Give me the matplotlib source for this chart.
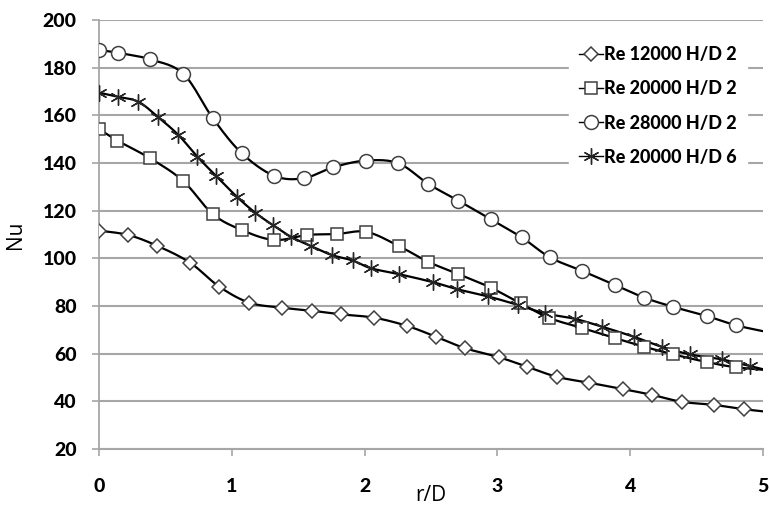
import numpy as np
import matplotlib
matplotlib.use("Agg")
import matplotlib.pyplot as plt

# values (last point of each series lies just past r/D = 5)
x_re12 = [0, 0.22, 0.44, 0.685, 0.906, 1.132, 1.376, 1.605, 1.82, 2.071, 2.317, 2.538,
          2.756, 3.012, 3.22, 3.447, 3.692, 3.948, 4.166, 4.388, 4.631, 4.857, 5.1]
nu_re12 = [111.6, 109.8, 105.2, 98.2, 88.1, 81.4, 79.3, 78.0, 76.5, 75.1, 71.7, 67.1,
           62.3, 58.5, 54.6, 50.3, 47.8, 45.1, 42.7, 39.8, 38.5, 36.7, 35.2]

x_re20 = [0, 0.138, 0.384, 0.633, 0.856, 1.075, 1.32, 1.569, 1.79, 2.014, 2.257, 2.48,
          2.706, 2.95, 3.174, 3.39, 3.635, 3.888, 4.106, 4.325, 4.576, 4.797, 5.1]
nu_re20 = [154.2, 149.4, 142.0, 132.5, 118.6, 111.9, 107.7, 109.8, 110.2, 111.1, 105.2, 98.5,
           93.4, 87.7, 81.1, 75.0, 70.8, 66.5, 62.9, 59.7, 56.5, 54.3, 52.8]

x_re28 = [0, 0.141, 0.384, 0.635, 0.857, 1.075, 1.32, 1.541, 1.764, 2.008, 2.254, 2.48,
          2.706, 2.95, 3.183, 3.396, 3.635, 3.886, 4.106, 4.32, 4.576, 4.797, 5.1]
nu_re28 = [187.4, 186.3, 183.5, 177.4, 158.8, 144.1, 134.6, 133.6, 138.2, 141.0, 139.9, 131.2,
           124.2, 116.4, 108.8, 100.4, 94.8, 88.8, 83.5, 79.7, 75.8, 71.9, 68.3]

x_hd6 = [0, 0.141, 0.296, 0.442, 0.597, 0.74, 0.881, 1.037, 1.175, 1.313, 1.447, 1.598,
         1.752, 1.909, 2.05, 2.256, 2.515, 2.693, 2.931, 3.157, 3.358, 3.584, 3.789, 4.027,
         4.237, 4.45, 4.689, 4.902, 5.1]
nu_hd6 = [169.5, 167.8, 165.7, 159.4, 151.8, 142.7, 134.6, 125.9, 119.2, 113.8, 109.0, 105.1,
          101.4, 99.1, 95.8, 93.4, 90.0, 87.1, 84.0, 80.4, 76.9, 74.6, 71.3, 67.1,
          62.9, 59.7, 57.6, 54.8, 52.1]

labels = ["Re 12000 H/D 2", "Re 20000 H/D 2", "Re 28000 H/D 2", "Re 20000 H/D 6"]


def smooth(x, y, n=16):
    # Catmull-Rom style bezier, like the spreadsheet "smoothed line"
    p = np.column_stack([x, y]).astype(float)
    p = np.vstack([p[0], p, p[-1]])
    out = []
    t = np.linspace(0, 1, n)[:, None]
    for i in range(1, len(p) - 2):
        p0, p1, p2, p3 = p[i - 1], p[i], p[i + 1], p[i + 2]
        c1 = p1 + (p2 - p0) / 6.0
        c2 = p2 - (p3 - p1) / 6.0
        seg = ((1 - t) ** 3) * p1 + 3 * ((1 - t) ** 2) * t * c1 + 3 * (1 - t) * t ** 2 * c2 + t ** 3 * p2
        out.append(seg if i == 1 else seg[1:])
    s = np.vstack(out)
    return s[:, 0], s[:, 1]


fig = plt.figure(figsize=(7.7, 5.15), dpi=100)
ax = fig.add_axes([99 / 770, 66 / 515, 664 / 770, 429 / 515])

grid_c = "#a6a6a6"
edge_c = "#404040"
styles = [
    dict(marker="D", ms=7.5, mfc="white", mec=edge_c, mew=1.1),
    dict(marker="s", ms=8.5, mfc="white", mec=edge_c, mew=1.1),
    dict(marker="o", ms=10, mfc="white", mec=edge_c, mew=1.1),
    dict(marker=(6, 2, 0), ms=11.5, mfc="white", mec="#262626", mew=1.0),
]
series = [(x_re12, nu_re12), (x_re20, nu_re20), (x_re28, nu_re28), (x_hd6, nu_hd6)]

for (xs, ys), st, lab in zip(series, styles, labels):
    sx, sy = smooth(xs, ys)
    ax.plot(sx, sy, color="black", lw=1.6, zorder=3)
    ax.plot(xs[:-1], ys[:-1], ls="none", zorder=4, **st)
    # legend proxy
    ax.plot([], [], color="black", lw=1.0, label=lab, **st)

ax.set_xlim(0, 5)
ax.set_ylim(20, 200)
ax.set_yticks(np.arange(20, 201, 20))
ax.set_xticks(np.arange(0, 6, 1))
ax.yaxis.grid(True, color=grid_c, lw=1.5)
ax.set_axisbelow(True)
for s in ["top", "right"]:
    ax.spines[s].set_visible(False)
ax.spines["left"].set_color(grid_c)
ax.spines["bottom"].set_color(grid_c)
ax.spines["left"].set_linewidth(1.3)
ax.spines["bottom"].set_linewidth(1.5)
ax.tick_params(axis="y", length=5, width=1.2, color=grid_c, pad=11)
ax.tick_params(axis="x", length=5, width=1.2, color=grid_c, pad=16)

for lab in ax.get_xticklabels() + ax.get_yticklabels():
    lab.set_fontfamily("Lato")
    lab.set_fontweight("black")
    lab.set_fontsize(14)

ax.set_xlabel("r/D", family="Open Sans", fontsize=15, labelpad=-7)
ax.set_ylabel("Nu", family="Open Sans", fontsize=15, labelpad=12)

leg = ax.legend(loc="upper right", bbox_to_anchor=(0.99, 0.985), frameon=True,
                facecolor="white", edgecolor="white", framealpha=1,
                prop=dict(family="Lato", weight="black", size=13),
                handlelength=1.3, handletextpad=0.05, labelspacing=0.95,
                borderpad=0.6, fancybox=False)
leg.set_zorder(5)

fig.savefig("out.png", dpi=100)
